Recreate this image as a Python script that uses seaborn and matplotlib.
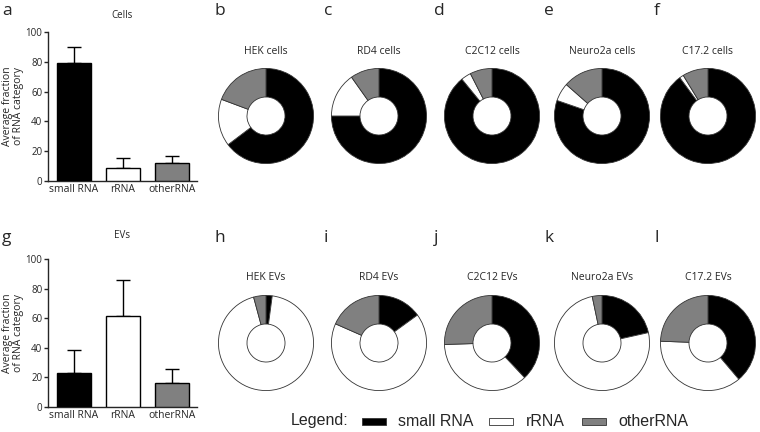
import matplotlib
matplotlib.use('Agg')
import matplotlib.pyplot as plt
import seaborn as sb
import numpy as np
from matplotlib.patches import Rectangle

# RNA categories and colours
categories = ['small RNA', 'rRNA', 'otherRNA']
colors = ['#000000', '#ffffff', '#808080']

# Bar chart data (mean, upper SD)
cells_mean = [79.5, 8.5, 12.0]
cells_sd = [10.5, 7.0, 4.5]
evs_mean = [23.0, 61.5, 16.0]
evs_sd = [15.5, 24.5, 10.0]

# Pie data (% small RNA, rRNA, otherRNA)
cell_lines = ['HEK', 'RD4', 'C2C12', 'Neuro2a', 'C17.2']
cells_small = [64.7, 75.0, 89.1, 80.3, 89.9]
cells_rrna = [16.0, 15.2, 3.4, 6.2, 1.4]
cells_other = [19.3, 9.8, 7.5, 13.5, 8.7]
evs_small = [2.1, 15.0, 38.0, 21.5, 38.8]
evs_rrna = [93.7, 66.6, 36.5, 75.2, 36.8]
evs_other = [4.2, 18.4, 25.5, 3.3, 24.4]

W, H = 760, 432
sb.set_style('ticks')
plt.rcParams['font.family'] = ['Open Sans', 'DejaVu Sans']
fig = plt.figure(figsize=(W / 100, H / 100), dpi=100)


def px_axes(x0, y0, x1, y1):
    # pixel box (top-left origin) -> figure axes
    return fig.add_axes([x0 / W, 1 - y1 / H, (x1 - x0) / W, (y1 - y0) / H])


def bar_panel(box, means, sds, title, ty):
    ax = px_axes(*box)
    sb.barplot(x=categories, y=means, hue=categories, palette=colors,
               edgecolor='black', linewidth=1.0, width=0.68, legend=False,
               errorbar=None, ax=ax, zorder=3)
    ax.errorbar(range(3), means, yerr=[[0, 0, 0], sds], fmt='none',
                ecolor='black', elinewidth=1.0, capsize=5, capthick=1.0, zorder=2)
    ax.set_ylim(0, 100)
    ax.set_xlim(-0.53, 2.51)
    ax.set_yticks(range(0, 101, 20))
    ax.tick_params(axis='y', labelsize=7, length=3, width=1, pad=1)
    ax.tick_params(axis='x', labelsize=7.5, length=0, pad=2)
    ax.set_ylabel('Average fraction\nof RNA category', fontsize=7.5,
                  linespacing=1.05)
    ax.yaxis.set_label_coords(-0.16, 0.5)
    fig.text((box[0] + box[2]) / 2 / W, 1 - ty / H, title, ha='center',
             va='center', fontsize=7)
    for s in ['top', 'right']:
        ax.spines[s].set_visible(False)
    for s in ['left', 'bottom']:
        ax.spines[s].set_linewidth(1.0)
    return ax


bar_panel((48, 32, 197, 181), cells_mean, cells_sd, 'Cells', 15)
bar_panel((48, 259, 197, 407), evs_mean, evs_sd, 'EVs', 235)

pie_x = [266, 379, 492, 602, 708]
r = 48.5


def pie_panel(cx, cy, vals, title, ty):
    ax = px_axes(cx - r, cy - r, cx + r, cy + r)
    ax.pie(vals, colors=colors, startangle=90, counterclock=False, radius=1,
           wedgeprops=dict(width=0.6, edgecolor='#333333', linewidth=0.6))
    ax.set_xlim(-1.02, 1.02)
    ax.set_ylim(-1.02, 1.02)
    fig.text(cx / W, 1 - ty / H, title, ha='center', va='center', fontsize=7.5)


for i, name in enumerate(cell_lines):
    pie_panel(pie_x[i], 116, [cells_small[i], cells_rrna[i], cells_other[i]],
              name + ' cells', 52)
    pie_panel(pie_x[i], 343, [evs_small[i], evs_rrna[i], evs_other[i]],
              name + ' EVs', 278)

# panel letters
letters_top = ['b', 'c', 'd', 'e', 'f']
letters_bot = ['h', 'i', 'j', 'k', 'l']
fig.text(2 / W, 1 - 11 / H, 'a', fontsize=12.5, va='center')
fig.text(2 / W, 1 - 238 / H, 'g', fontsize=12.5, va='center')
for i in range(5):
    fig.text((214 + 110 * i) / W, 1 - 11 / H, letters_top[i], fontsize=12.5, va='center')
    fig.text((214 + 110 * i) / W, 1 - 238 / H, letters_bot[i], fontsize=12.5, va='center')

# legend
ly = 421
fig.text(291 / W, 1 - ly / H, 'Legend:', fontsize=11.5, va='center',
         family=['Liberation Sans'])
patch_x = [362, 489, 582]
text_x = [398, 526, 618]
for i in range(3):
    fig.patches.append(Rectangle((patch_x[i] / W, 1 - (ly + 3.5) / H), 24 / W, 7 / H,
                                 transform=fig.transFigure, facecolor=colors[i],
                                 edgecolor='#333333', linewidth=0.6))
    fig.text(text_x[i] / W, 1 - ly / H, categories[i], fontsize=11.5, va='center',
             family=['Liberation Sans'])

plt.savefig('out.png', dpi=100)
